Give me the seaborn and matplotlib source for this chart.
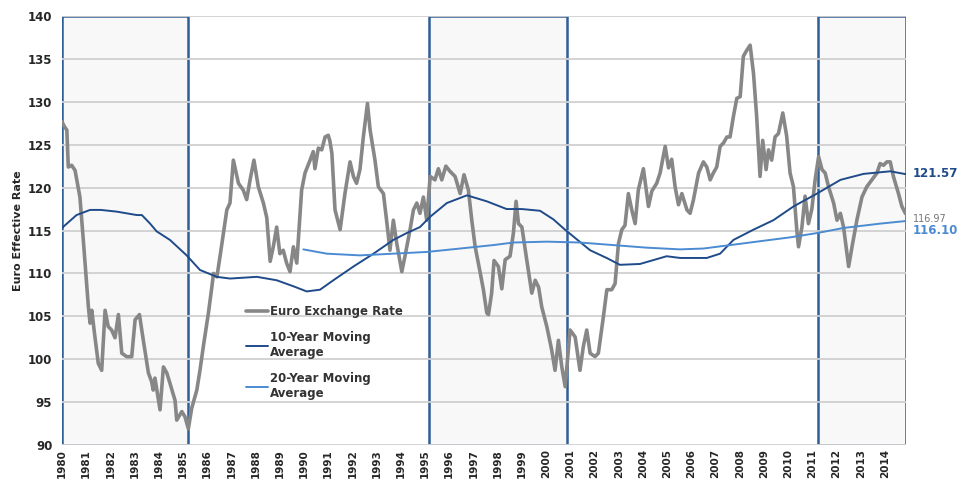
import numpy as np
import pandas as pd
import seaborn as sns
import matplotlib.pyplot as plt
from matplotlib.patches import Rectangle
import matplotlib.transforms as mtransforms

sns.set_style("white")
plt.rcParams["font.family"] = ["DejaVu Sans"]

# Euro exchange rate
rate_years = [1980.0, 1980.08, 1980.2, 1980.26, 1980.4, 1980.54, 1980.74, 1980.88, 1981.09, 1981.16,
              1981.23, 1981.36, 1981.5, 1981.64, 1981.78, 1981.91, 1982.05, 1982.19, 1982.33, 1982.47,
              1982.67, 1982.88, 1983.02, 1983.2, 1983.36, 1983.57, 1983.7, 1983.77, 1983.84, 1984.05,
              1984.19, 1984.33, 1984.46, 1984.67, 1984.74, 1984.95, 1985.08, 1985.22, 1985.36, 1985.57,
              1985.7, 1985.84, 1986.05, 1986.19, 1986.26, 1986.4, 1986.53, 1986.67, 1986.81, 1986.94,
              1987.08, 1987.29, 1987.49, 1987.63, 1987.77, 1987.93, 1988.11, 1988.32, 1988.46, 1988.6,
              1988.73, 1988.87, 1989.0, 1989.14, 1989.28, 1989.42, 1989.56, 1989.7, 1989.9, 1990.04,
              1990.25, 1990.38, 1990.45, 1990.59, 1990.73, 1990.87, 1991.0, 1991.07, 1991.15, 1991.28,
              1991.49, 1991.69, 1991.9, 1992.04, 1992.17, 1992.31, 1992.45, 1992.62, 1992.73, 1992.93,
              1993.07, 1993.28, 1993.41, 1993.55, 1993.69, 1993.83, 1994.04, 1994.17, 1994.38, 1994.52,
              1994.66, 1994.79, 1994.93, 1995.07, 1995.21, 1995.41, 1995.55, 1995.69, 1995.86, 1996.03,
              1996.24, 1996.45, 1996.61, 1996.79, 1996.93, 1997.07, 1997.27, 1997.41, 1997.55, 1997.62,
              1997.75, 1997.85, 1998.03, 1998.17, 1998.31, 1998.51, 1998.65, 1998.76, 1998.86, 1999.0,
              1999.2, 1999.41, 1999.55, 1999.69, 1999.82, 2000.03, 2000.23, 2000.37, 2000.51, 2000.65,
              2000.79, 2000.99, 2001.2, 2001.4, 2001.54, 2001.68, 2001.82, 2002.02, 2002.16, 2002.37,
              2002.51, 2002.71, 2002.85, 2002.99, 2003.13, 2003.26, 2003.4, 2003.54, 2003.68, 2003.81,
              2004.02, 2004.23, 2004.37, 2004.57, 2004.71, 2004.92, 2005.06, 2005.19, 2005.33, 2005.47,
              2005.61, 2005.82, 2005.95, 2006.09, 2006.3, 2006.5, 2006.64, 2006.78, 2006.91, 2007.05,
              2007.19, 2007.33, 2007.47, 2007.6, 2007.74, 2007.88, 2008.02, 2008.15, 2008.29, 2008.43,
              2008.57, 2008.7, 2008.84, 2008.95, 2009.09, 2009.19, 2009.32, 2009.46, 2009.6, 2009.78,
              2009.94, 2010.08, 2010.22, 2010.36, 2010.43, 2010.57, 2010.7, 2010.84, 2010.98, 2011.12,
              2011.26, 2011.4, 2011.53, 2011.67, 2011.88, 2012.02, 2012.16, 2012.29, 2012.43, 2012.5,
              2012.64, 2012.84, 2013.05, 2013.25, 2013.46, 2013.67, 2013.8, 2013.94, 2014.08, 2014.22,
              2014.35, 2014.56, 2014.7, 2014.85]
rate_vals = [127.7, 127.2, 126.7, 122.4, 122.6, 122.0, 118.9, 113.9, 106.1, 104.2,
             105.7, 102.6, 99.5, 98.7, 105.7, 103.8, 103.4, 102.5, 105.2, 100.7,
             100.3, 100.3, 104.6, 105.2, 102.2, 98.4, 97.4, 96.4, 97.8, 94.1,
             99.1, 98.4, 97.2, 95.2, 92.9, 93.9, 93.3, 91.9, 94.3, 96.4,
             98.7, 101.5, 105.4, 108.4, 110.0, 109.6, 112.0, 114.7, 117.4, 118.2,
             123.2, 120.5, 119.7, 118.6, 120.9, 123.2, 120.1, 118.2, 116.5, 111.4,
             113.1, 115.4, 112.3, 112.7, 111.2, 110.2, 113.1, 111.2, 119.7, 121.7,
             123.2, 124.2, 122.2, 124.6, 124.4, 125.9, 126.1, 125.4, 124.0, 117.4,
             115.1, 119.3, 123.0, 121.3, 120.5, 122.1, 125.9, 129.8, 126.7, 123.2,
             120.1, 119.3, 116.2, 112.7, 116.2, 113.5, 110.2, 112.0, 115.1, 117.4,
             118.2, 117.0, 118.9, 116.2, 121.3, 120.9, 122.2, 120.9, 122.5, 121.9,
             121.3, 119.3, 121.5, 119.7, 116.2, 113.1, 110.2, 108.1, 105.4, 105.2,
             107.7, 111.5, 110.8, 108.2, 111.6, 112.0, 114.7, 118.4, 115.8, 115.4,
             111.6, 107.7, 109.2, 108.4, 106.1, 103.8, 101.1, 98.7, 102.2, 99.1,
             96.8, 103.4, 102.6, 98.7, 101.5, 103.4, 100.7, 100.3, 100.7, 105.0,
             108.1, 108.1, 108.8, 113.5, 115.1, 115.6, 119.3, 117.4, 115.8, 119.7,
             122.2, 117.8, 119.6, 120.5, 121.7, 124.8, 122.3, 123.3, 120.1, 118.0,
             119.3, 117.4, 117.0, 118.6, 121.7, 123.0, 122.4, 120.9, 121.7, 122.4,
             124.8, 125.2, 125.9, 125.9, 128.3, 130.4, 130.6, 135.3, 136.0, 136.6,
             133.3, 128.3, 121.3, 125.5, 122.1, 124.4, 123.2, 125.9, 126.3, 128.7,
             126.0, 121.7, 120.1, 115.0, 113.1, 115.4, 119.0, 115.8, 117.5, 121.0,
             123.6, 122.1, 121.7, 120.1, 118.2, 116.2, 117.0, 115.4, 112.3, 110.8,
             113.1, 116.2, 118.9, 120.1, 120.9, 121.7, 122.8, 122.6, 123.0, 123.0,
             121.3, 119.3, 117.8, 116.97]

# 10-year moving average
ma10_years = [1980.0, 1980.6, 1981.16, 1981.6, 1982.26, 1983.09, 1983.3, 1983.64, 1983.91, 1984.46,
              1985.15, 1985.7, 1986.39, 1986.94, 1987.5, 1988.05, 1988.87, 1989.56, 1990.11, 1990.66,
              1991.21, 1992.04, 1992.87, 1993.69, 1994.24, 1994.79, 1995.21, 1995.9, 1996.73, 1997.55,
              1998.37, 1999.0, 1999.75, 2000.3, 2000.78, 2001.82, 2002.5, 2003.05, 2003.88, 2004.98,
              2005.54, 2006.64, 2007.19, 2007.74, 2008.57, 2009.39, 2010.22, 2011.19, 2012.16, 2013.12,
              2014.22, 2014.85]
ma10_vals = [115.3, 116.8, 117.4, 117.4, 117.2, 116.8, 116.8, 115.8, 114.9, 113.9,
             112.1, 110.4, 109.6, 109.4, 109.5, 109.6, 109.2, 108.5, 107.9, 108.1,
             109.2, 110.8, 112.3, 113.9, 114.7, 115.4, 116.6, 118.2, 119.1, 118.4,
             117.5, 117.5, 117.3, 116.3, 115.1, 112.7, 111.8, 111.0, 111.1, 112.0,
             111.8, 111.8, 112.3, 113.9, 115.1, 116.2, 117.8, 119.3, 120.9, 121.6,
             121.9, 121.57]

# 20-year moving average
ma20_years = [1989.97, 1990.94, 1992.31, 1993.69, 1995.07, 1996.45, 1997.82, 1998.65, 2000.03, 2001.4,
              2002.78, 2004.16, 2005.54, 2006.5, 2007.33, 2008.7, 2010.08, 2011.19, 2012.3, 2013.8,
              2014.85]
ma20_vals = [112.8, 112.3, 112.1, 112.3, 112.5, 112.9, 113.3, 113.6, 113.7, 113.6,
             113.3, 113.0, 112.8, 112.9, 113.2, 113.7, 114.2, 114.7, 115.3, 115.8,
             116.10]

# highlighted periods
periods = [(1980.0, 1985.2), (1995.15, 2000.85), (2011.22, 2014.85)]
year_ticks = list(range(1980, 2015))

grey = "#878787"
navy = "#1f4b8a"
lightblue = "#4b8bd2"
boxblue = "#2f5d96"

fig = plt.figure(figsize=(9.58, 4.82), dpi=100)
ax = fig.add_axes([62 / 958, 37 / 482, 844 / 958, 429 / 482])

for x0, x1 in periods:
    ax.add_patch(Rectangle((x0, 90), x1 - x0, 50, facecolor="#f8f8f8",
                           edgecolor=boxblue, linewidth=1.8, zorder=0.5))

rate_df = pd.DataFrame({"year": rate_years, "value": rate_vals})
ma10_df = pd.DataFrame({"year": ma10_years, "value": ma10_vals})
ma20_df = pd.DataFrame({"year": ma20_years, "value": ma20_vals})

sns.lineplot(data=rate_df, x="year", y="value", ax=ax, color=grey, linewidth=2.6,
             label="Euro Exchange Rate", zorder=3)
sns.lineplot(data=ma10_df, x="year", y="value", ax=ax, color=navy, linewidth=1.4,
             label="10-Year Moving\nAverage", zorder=4)
sns.lineplot(data=ma20_df, x="year", y="value", ax=ax, color=lightblue, linewidth=1.4,
             label="20-Year Moving\nAverage", zorder=4)

ax.set_xlim(1980, 2014.87)
ax.set_ylim(90, 140)
ax.set_yticks(range(90, 141, 5))
ax.set_xticks(year_ticks)
ax.set_xticklabels([str(y) for y in year_ticks], rotation=90, fontsize=7.5, fontweight="bold")
ax.tick_params(axis="y", labelsize=8.5, pad=7)
for lab in ax.get_yticklabels():
    lab.set_fontweight("bold")
ax.tick_params(axis="x", pad=3, length=0)
ax.tick_params(axis="y", length=0)
ax.yaxis.grid(True, color="#d0d0d0", linewidth=1.3, zorder=0)
ax.set_axisbelow(True)
for s in ax.spines.values():
    s.set_visible(False)

ax.set_xlabel("")
ax.set_ylabel("Euro Effective Rate", fontsize=8, fontweight="bold")
ax.yaxis.set_label_coords(-0.046, 0.5)

leg = ax.legend(loc="upper left", bbox_to_anchor=(0.205, 0.35), frameon=False,
                fontsize=8.5, handlelength=1.9, handletextpad=0.15, labelspacing=1.1)
for t in leg.get_texts():
    t.set_fontweight("bold")
    t.set_color("#333333")

trans = mtransforms.blended_transform_factory(ax.transAxes, ax.transData)
ax.text(1.008, 121.6, "121.57", transform=trans, color=navy, fontsize=8.5,
        fontweight="bold", va="center", ha="left", clip_on=False)
ax.text(1.008, 116.3, "116.97", transform=trans, color="#777777", fontsize=7,
        va="center", ha="left", clip_on=False)
ax.text(1.008, 114.95, "116.10", transform=trans, color=lightblue, fontsize=8.5,
        fontweight="bold", va="center", ha="left", clip_on=False)

fig.savefig("out.png", dpi=100)
